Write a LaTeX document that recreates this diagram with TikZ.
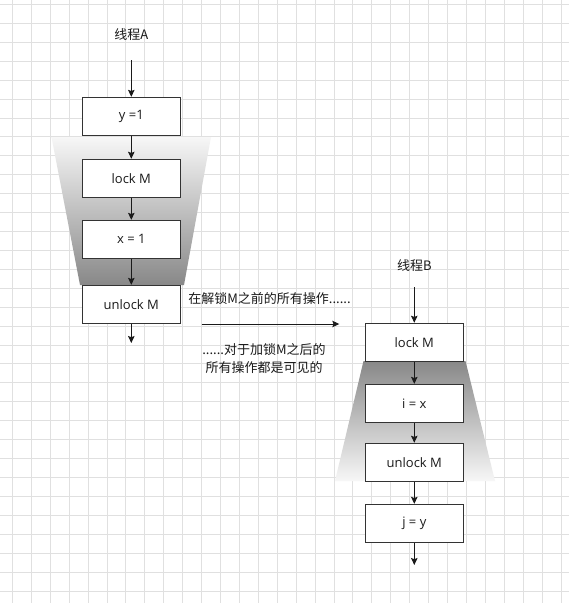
\documentclass[tikz,border=0pt]{standalone}
\usepackage{fontspec}
\setmainfont{Noto Sans CJK SC}
\newfontfamily\boxfont{Open Sans}
\usetikzlibrary{arrows.meta}
\definecolor{gridc}{HTML}{E0E0E0}
\definecolor{boxc}{HTML}{333333}
\definecolor{txtc}{HTML}{1A1A1A}
\definecolor{shadeA}{HTML}{888888}
\definecolor{shadeL}{HTML}{F7F7F7}
\tikzset{
  stepbox/.style={draw=boxc, line width=0.9pt, fill=white, minimum width=98pt, minimum height=38pt, inner sep=0pt, text=txtc, font=\boxfont\fontsize{13}{16}\selectfont},
  lbl/.style={text=txtc, font=\fontsize{13}{18}\selectfont, inner sep=0pt},
  flow/.style={draw=txtc, line width=0.9pt, -{Stealth[length=7pt,width=6.5pt,inset=1.2pt]}},
}
\begin{document}
\begin{tikzpicture}[x=1pt,y=-1pt]
\useasboundingbox (0,0) rectangle (569,603);
\fill[white] (0,0) rectangle (569,603);
% grid
\foreach \k in {0,...,29} { \draw[gridc, line width=0.8pt] ({12.3+18.92*\k},0) -- ({12.3+18.92*\k},603); }
\foreach \k in {0,...,31} { \draw[gridc, line width=0.8pt] (0,{4.4+18.92*\k}) -- (569,{4.4+18.92*\k}); }
% shaded trapezoids
\shade[top color=shadeL, bottom color=shadeA] (51.5,137) -- (211,137) -- (184,285) -- (80,285) -- cycle;
\shade[top color=shadeA, bottom color=shadeL] (363.5,361) -- (465.5,361) -- (495,481) -- (335,481) -- cycle;
% thread A
\node[lbl] (ta) at (131.3,35) {线程A};
\coordinate (ta0) at (131.3,60);
\node[stepbox] (a1) at (131.3,116.3) {y =1};
\node[stepbox] (a2) at (131.3,178.2) {lock M};
\node[stepbox] (a3) at (131.3,239.3) {x = 1};
\node[stepbox] (a4) at (131.3,304.3) {unlock M};
\coordinate (aend) at (131.3,343);
\draw[flow] (ta0) -- (a1);
\draw[flow] (a1) -- (a2);
\draw[flow] (a2) -- (a3);
\draw[flow] (a3) -- (a4);
\draw[flow] (a4) -- (aend);
% thread B
\node[lbl] (tb) at (414.3,266) {线程B};
\coordinate (tb0) at (414.3,287);
\node[stepbox] (b1) at (414.3,342.2) {lock M};
\node[stepbox] (b2) at (414.3,403.3) {i = x};
\node[stepbox] (b3) at (414.3,462.2) {unlock M};
\node[stepbox] (b4) at (414.3,523.3) {j = y};
\coordinate (bend) at (414.3,565);
\draw[flow] (tb0) -- (b1);
\draw[flow] (b1) -- (b2);
\draw[flow] (b2) -- (b3);
\draw[flow] (b3) -- (b4);
\draw[flow] (b4) -- (bend);
% middle
\coordinate (m0) at (201.7,324);
\coordinate (m1) at (339.3,324);
\draw[flow] (m0) -- (m1);
\node[lbl] (t1) at (269.5,299) {在解锁M之前的所有操作......};
\node[lbl, align=center] (t2) at (264,359) {......对于加锁M之后的\\所有操作都是可见的};
\end{tikzpicture}
\end{document}
